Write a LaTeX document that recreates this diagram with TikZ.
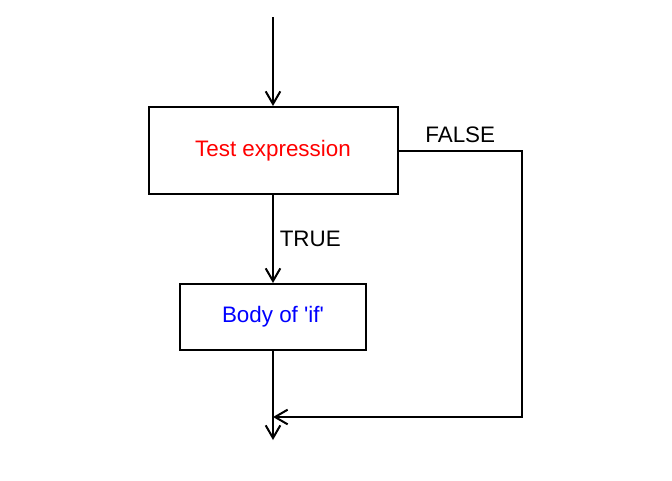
\documentclass[tikz,border=0pt]{standalone}
\usepackage{fontspec}
\setmainfont{Liberation Sans}
\usetikzlibrary{arrows.meta,positioning}

\begin{document}
\begin{tikzpicture}[x=0.75pt,y=-0.75pt,line width=1.5pt,
  >={Straight Barb[length=9.5pt,width=11pt]},
  font=\fontsize{16.8}{20}\selectfont]
\useasboundingbox (0,0) rectangle (672,480);

% entry and exit points
\coordinate (start) at (273,17);
\coordinate (finish) at (273,440);

% test box
\node[rectangle,draw,minimum width=186.75pt, minimum height=65.25pt, text=red, name=test] at (273,150.5) {Test expression};

% body box
\node[rectangle,draw,minimum width=139.5pt, minimum height=49.5pt, text=blue, name=body] at (273,317) {Body of \textquotesingle if\textquotesingle};

% false branch corners
\coordinate (falsetop) at (522,150.5);
\coordinate (falsebot) at (522,417);
\coordinate (merge) at (273,417);

% arrows
\draw[->] (start) -- (test) ;
\draw[->] (test) -- node[right, xshift=1pt] {TRUE} (body) ;
\draw[->] (test.east) -- node[above, yshift=2pt] {FALSE} (falsetop) -- (falsebot) -- (merge) ;
\draw[->] (body) -- (finish) ;
\end{tikzpicture}
\end{document}
